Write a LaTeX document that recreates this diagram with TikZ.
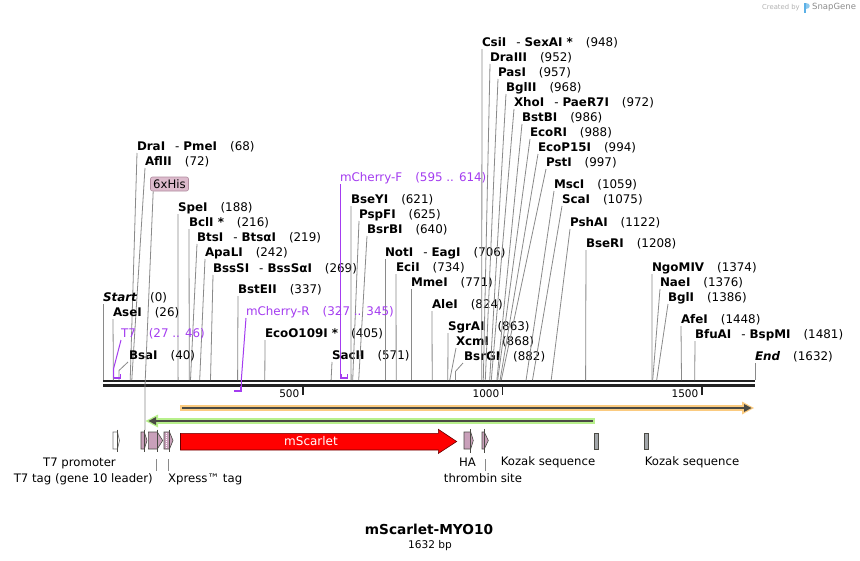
\documentclass[tikz,border=0pt]{standalone}
\usepackage{fontspec}
\setmainfont{DejaVu Sans}
\definecolor{prim}{HTML}{A43CF0}
\definecolor{cutc}{HTML}{8A8A8A}
\definecolor{featpink}{HTML}{C9A0BA}
\definecolor{hisfill}{HTML}{DDBBCD}
\definecolor{hisdraw}{HTML}{B08C9F}
\definecolor{orangeband}{HTML}{FBCB80}
\definecolor{greenband}{HTML}{B8F08C}
\definecolor{darkline}{HTML}{4A4A44}
\definecolor{bbc}{HTML}{222222}
\definecolor{kozak}{HTML}{A3A7AB}
\definecolor{logoblue}{HTML}{5BB0E6}
\newcommand\myfs[1]{\fontsize{#1}{#1}\selectfont}
\newcommand\ps[1]{\hspace{13pt}(#1)}
\newcommand\dsh{\hspace{10pt}-\hspace{4pt}}
\tikzset{
  enzlab/.style={anchor=base west, inner sep=0pt, outer sep=0pt, font=\myfs{11.9}},
  primlab/.style={anchor=base west, inner sep=0pt, outer sep=0pt, font=\myfs{11.9}, text=prim},
  cutline/.style={draw=cutc, line width=0.8pt},
  primline/.style={draw=prim, line width=1pt},
  primbracket/.style={draw=prim, line width=1.7pt},
  featbox/.style={fill=featpink, draw=darkline, line width=0.6pt},
  featmark/.style={draw=darkline, line width=0.9pt},
  featlab/.style={font=\myfs{11.7}, inner sep=0pt},
  ticklab/.style={font=\myfs{10.5}, inner sep=0pt, anchor=east},
}
% name, x, baseline y, cut-site x, text
\newcommand\enz[5]{%
  \node[enzlab] (#1) at (#2,#3) {#5};
  \coordinate (#1-cut) at (#4,380);
  \draw[cutline] ([shift={(0,2.5)}]#1.base west) -- (#1-cut);
}
% kinked version
\newcommand\enzk[5]{%
  \node[enzlab] (#1) at (#2,#3) {#5};
  \coordinate (#1-cut) at (#4,380);
  \coordinate (#1-mid) at (#4,#3+11);
  \draw[cutline] ([shift={(-1,2.5)}]#1.base west) -- (#1-mid) -- (#1-cut);
}
\begin{document}
\begin{tikzpicture}[x=1pt,y=-1pt]
\useasboundingbox[fill=white] (0,0) rectangle (860,560);

% Created by SnapGene
\node[anchor=west, inner sep=0pt, text=black!30, font=\myfs{6.8}] (cb) at (762,7.5) {Created by};
\fill[logoblue] (803.5,2.5) rectangle (806,12.5);
\fill[logoblue!70] (806,2.5) .. controls (810.5,2.5) and (810.5,8.5) .. (806,8.5) -- cycle;
\node[anchor=west, inner sep=0pt, text=black!45, font=\myfs{8.5}] (sg) at (812,7.5) {SnapGene};

% backbone
\draw[bbc, line width=2.6pt] (103,381) -- (755,381);
\draw[bbc, line width=2.8pt] (103,385.8) -- (755,385.8);
\draw[bbc, line width=1.8pt] (303,387) -- (303,394.5);
\draw[bbc, line width=1.8pt] (502.5,387) -- (502.5,394.5);
\draw[bbc, line width=1.8pt] (702,387) -- (702,394.5);
\node[ticklab] (t500) at (299.5,394) {500};
\node[ticklab] (t1000) at (499.5,394) {1000};
\node[ticklab] (t1500) at (698.5,394) {1500};

% enzymes, left group
\enz{DraI}{137}{150.5}{130.2}{\textbf{DraI}\dsh\textbf{PmeI}\ps{68}}
\enz{AflII}{145}{165.5}{131.8}{\textbf{AflII}\ps{72}}
\enz{SpeI}{178}{211.5}{178.1}{\textbf{SpeI}\ps{188}}
\enz{BclI}{189}{226.5}{189.3}{\textbf{BclI *}\ps{216}}
\enz{BtsI}{197}{241.5}{190.5}{\textbf{BtsI}\dsh\textbf{BtsαI}\ps{219}}
\enz{ApaLI}{205}{256.5}{199.7}{\textbf{ApaLI}\ps{242}}
\enz{BssSI}{213}{272.5}{210.5}{\textbf{BssSI}\dsh\textbf{BssSαI}\ps{269}}
\enz{BstEII}{238}{293.5}{237.6}{\textbf{BstEII}\ps{337}}
\enz{Start}{103}{301.5}{103}{\textbf{\textit{Start}}\ps{0}}
\enz{AseI}{113}{316.5}{113.4}{\textbf{AseI}\ps{26}}
\enz{EcoO}{265}{337.5}{264.8}{\textbf{EcoO109I *}\ps{405}}
\enzk{BsaI}{129}{359.5}{119}{\textbf{BsaI}\ps{40}}
\enz{SacII}{332}{359.5}{331.1}{\textbf{SacII}\ps{571}}
% middle group
\enz{BseYI}{351}{203.5}{351.1}{\textbf{BseYI}\ps{621}}
\enz{PspFI}{359}{218.5}{352.7}{\textbf{PspFI}\ps{625}}
\enz{BsrBI}{367}{233.5}{358.7}{\textbf{BsrBI}\ps{640}}
\enz{NotI}{385}{256.5}{385}{\textbf{NotI}\dsh\textbf{EagI}\ps{706}}
\enz{EciI}{396}{271.5}{396.2}{\textbf{EciI}\ps{734}}
\enz{MmeI}{411}{286.5}{411}{\textbf{MmeI}\ps{771}}
\enz{AleI}{432}{308.5}{432.2}{\textbf{AleI}\ps{824}}
\enz{SgrAI}{448}{330.5}{447.8}{\textbf{SgrAI}\ps{863}}
\enz{XcmI}{456}{345.5}{449.8}{\textbf{XcmI}\ps{868}}
\enzk{BsrGI}{464}{360.5}{455.4}{\textbf{BsrGI}\ps{882}}
% top group
\enz{CsiI}{482}{46.5}{481.7}{\textbf{CsiI}\dsh\textbf{SexAI *}\ps{948}}
\enz{DraIII}{490}{61.5}{483.3}{\textbf{DraIII}\ps{952}}
\enz{PasI}{498}{76.5}{485.3}{\textbf{PasI}\ps{957}}
\enz{BglII}{506}{91.5}{489.7}{\textbf{BglII}\ps{968}}
\enz{XhoI}{514}{106.5}{491.3}{\textbf{XhoI}\dsh\textbf{PaeR7I}\ps{972}}
\enz{BstBI}{522}{121.5}{496.9}{\textbf{BstBI}\ps{986}}
\enz{EcoRI}{530}{136.5}{497.7}{\textbf{EcoRI}\ps{988}}
\enz{EcoP}{538}{151.5}{500.1}{\textbf{EcoP15I}\ps{994}}
\enz{PstI}{546}{166.5}{501.3}{\textbf{PstI}\ps{997}}
\enz{MscI}{554}{188.5}{526.1}{\textbf{MscI}\ps{1059}}
\enz{ScaI}{562}{203.5}{532.5}{\textbf{ScaI}\ps{1075}}
\enz{PshAI}{570}{226.5}{551.2}{\textbf{PshAI}\ps{1122}}
\enz{BseRI}{586}{247.5}{585.6}{\textbf{BseRI}\ps{1208}}
% right group
\enz{NgoMIV}{652}{271.5}{651.9}{\textbf{NgoMIV}\ps{1374}}
\enz{NaeI}{660}{286.5}{652.7}{\textbf{NaeI}\ps{1376}}
\enz{BglI}{668}{301.5}{656.7}{\textbf{BglI}\ps{1386}}
\enz{AfeI}{681}{323.5}{681.5}{\textbf{AfeI}\ps{1448}}
\enz{BfuAI}{695}{338.5}{694.7}{\textbf{BfuAI}\dsh\textbf{BspMI}\ps{1481}}
\enz{End}{755}{360.5}{755}{\textbf{\textit{End}}\ps{1632}}

% primers
\node[primlab] (T7p) at (121,337.5) {T7\ps{27 .. 46}};
\coordinate (T7a) at (113.5,369);
\coordinate (T7b) at (113.5,378);
\coordinate (T7c) at (120.5,378);
\coordinate (T7d) at (120.5,374);
\draw[primline] ([shift={(0,2.5)}]T7p.base west) -- (T7a) -- (T7b);
\draw[primbracket] (T7b) -- (T7c) -- (T7d);

\node[primlab] (mchR) at (246,315.5) {mCherry-R\ps{327 .. 345}};
\coordinate (mRa) at (241.3,380);
\coordinate (mRb) at (241.3,391);
\coordinate (mRc) at (234,391);
\draw[primline] ([shift={(0,2.5)}]mchR.base west) -- (mRa) -- (mRb);
\draw[primbracket] (241.3,386) -- (mRb) -- (mRc);

\node[primlab] (mchF) at (340,181.5) {mCherry-F\ps{595 .. 614}};
\coordinate (mFa) at (340.7,378);
\coordinate (mFb) at (347.5,378);
\coordinate (mFc) at (347.5,374);
\draw[primline] ([shift={(0.7,2.5)}]mchF.base west) -- (mFa);
\draw[primbracket] (340.7,374) -- (mFa) -- (mFb) -- (mFc);

% 6xHis label
\node[fill=hisfill, draw=hisdraw, rounded corners=2pt, line width=0.6pt, inner sep=0pt,
      minimum width=38pt, minimum height=14pt, font=\myfs{11.7}] (his) at (169.5,184) {6xHis};
\coordinate (hisa) at (145,386);
\coordinate (hisb) at (145,430);
\draw[cutline] ([shift={(3,0)}]his.south west) -- (hisa) -- (hisb);

% orange (forward) arrow
\draw[orangeband, line width=6pt] (180,408) -- (745,408);
\fill[orangeband] (742,401.5) -- (754,408) -- (742,414.5) -- cycle;
\draw[darkline, line width=1.8pt] (182,408) -- (746,408);
\fill[darkline] (744,404) -- (751.5,408) -- (744,412) -- cycle;

% green (reverse) arrow
\draw[greenband, line width=6pt] (157,421) -- (595,421);
\fill[greenband] (158,414.5) -- (145.5,421) -- (158,427.5) -- cycle;
\draw[darkline, line width=1.8pt] (155,421) -- (593,421);
\fill[darkline] (156,417) -- (148.5,421) -- (156,425) -- cycle;

% features
\draw[fill=white, draw=black!55, line width=0.6pt] (113,432) -- (117.5,432) -- (119.5,440.5) -- (117.5,449) -- (113,449) -- cycle;
\draw[featmark] (117.5,429.5) -- (117.5,451.5);

\draw[featbox] (141,432) -- (144.3,432) -- (147,440.5) -- (144.3,449) -- (141,449) -- cycle;
\draw[featmark] (144.3,429.5) -- (144.3,452);

\draw[featbox] (148.3,432) -- (157.3,432) -- (162.7,440.5) -- (157.3,449) -- (148.3,449) -- cycle;
\draw[featmark] (157.3,429.5) -- (157.3,452);

\draw[featbox] (164,432) -- (169.5,432) -- (173,440.5) -- (169.5,449) -- (164,449) -- cycle;
\draw[white, line width=0.9pt, dash pattern=on 1pt off 1pt] (166.8,433) -- (166.8,448);
\draw[featmark] (169.5,429.5) -- (169.5,452);

\draw[fill=red, draw=black!60!red, line width=0.6pt] (180.5,433.3) -- (438.3,433.3) -- (438.3,429.3) -- (456.7,441.5) -- (438.3,453.5) -- (438.3,450) -- (180.5,450) -- cycle;
\node[text=white, font=\myfs{12}, inner sep=0pt] (mSc) at (311,441) {mScarlet};

\draw[featbox] (464,432) -- (470.7,432) -- (473.3,440.5) -- (470.7,449) -- (464,449) -- cycle;
\draw[featmark] (470.7,429) -- (470.7,453);

\draw[featbox] (482,432) -- (484.3,432) -- (488.3,440.5) -- (484.3,449) -- (482,449) -- cycle;
\draw[featmark] (484.3,429) -- (484.3,453);

\draw[fill=kozak, draw=darkline, line width=0.6pt] (594,433) rectangle (598,449);
\draw[fill=kozak, draw=darkline, line width=0.6pt] (644,433) rectangle (648,449);

% feature labels
\node[featlab] (lT7prom) at (79.5,463) {T7 promoter};
\node[featlab, anchor=east] (lT7tag) at (153,479) {T7 tag (gene 10 leader)};
\node[featlab, anchor=west] (lXp) at (168,479) {Xpress™ tag};
\node[featlab] (lHA) at (467.5,462.5) {HA};
\node[featlab] (lthr) at (483,478.5) {thrombin site};
\node[featlab] (lkz1) at (548,462.5) {Kozak sequence};
\node[featlab] (lkz2) at (692,462.5) {Kozak sequence};
\draw[cutline] (156.5,459) -- (156.5,471);
\draw[cutline] (168.3,459) -- (168.3,471);
\draw[cutline] (485,459) -- (485,471);

% title
\node[font=\bfseries\myfs{13.7}, inner sep=0pt] (title) at (429,529) {mScarlet-MYO10};
\node[font=\myfs{10.6}, inner sep=0pt] (bp) at (430,545.5) {1632 bp};
\end{tikzpicture}
\end{document}
